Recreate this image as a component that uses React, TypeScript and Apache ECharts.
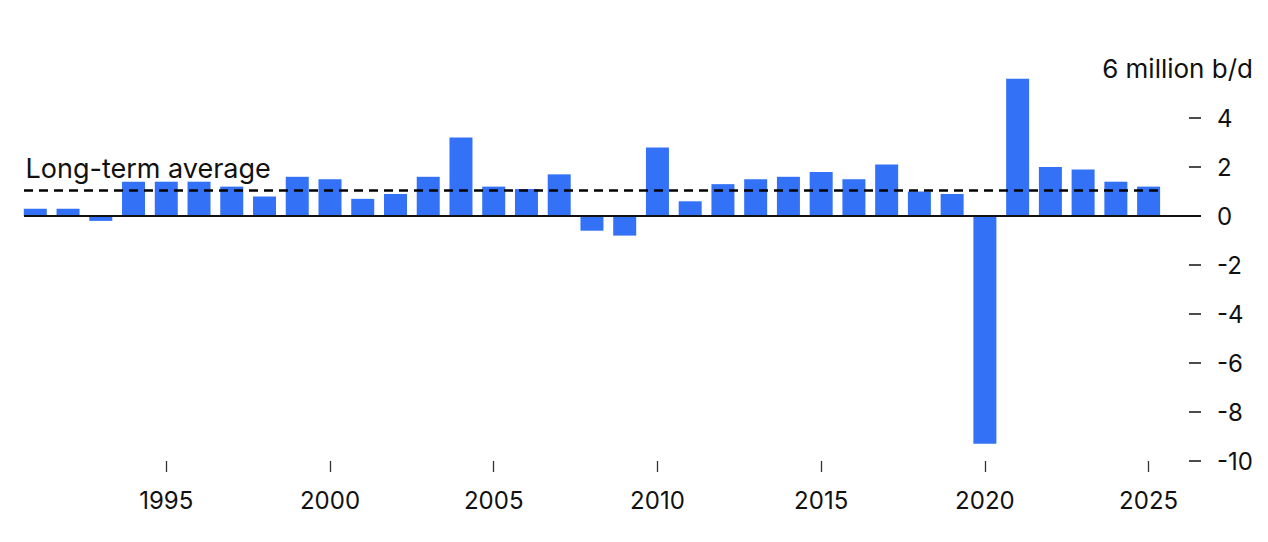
import React, { useEffect, useRef } from "react";
import * as echarts from "echarts";

const years = [
  1991, 1992, 1993, 1994, 1995, 1996, 1997, 1998, 1999, 2000,
  2001, 2002, 2003, 2004, 2005, 2006, 2007, 2008, 2009, 2010,
  2011, 2012, 2013, 2014, 2015, 2016, 2017, 2018, 2019, 2020,
  2021, 2022, 2023, 2024, 2025,
];
const growth = [
  0.3, 0.3, -0.2, 1.4, 1.4, 1.4, 1.2, 0.8, 1.6, 1.5,
  0.7, 0.9, 1.6, 3.2, 1.2, 1.1, 1.7, -0.6, -0.8, 2.8,
  0.6, 1.3, 1.5, 1.6, 1.8, 1.5, 2.1, 1.0, 0.9, -9.3,
  5.6, 2.0, 1.9, 1.4, 1.2,
];
const longTermAverage = 1.06;
const xTickYears = [1995, 2000, 2005, 2010, 2015, 2020, 2025];
const yTickValues = [-10, -8, -6, -4, -2, 0, 2, 4];
const unitLabel = "6 million b/d";
const averageLabel = "Long-term average";

const FONT = "Inter, 'Liberation Sans', Arial, sans-serif";

export default function App() {
  const ref = useRef<HTMLDivElement>(null);
  useEffect(() => {
    if (!ref.current) return;
    const chart = echarts.init(ref.current, undefined, { renderer: "svg" });
    const xMin = 1990.655;
    const xMax = 2026.6;
    chart.setOption({
      animation: false,
      grid: { left: 24, right: 67, top: 69, bottom: 81, containLabel: false },
      xAxis: {
        type: "value",
        min: xMin,
        max: xMax,
        axisLine: { show: false, onZero: false },
        splitLine: { show: false },
        axisTick: {
          show: true,
          length: 11,
          customValues: xTickYears,
          lineStyle: { color: "#333", width: 1.3 },
        },
        axisLabel: {
          customValues: xTickYears,
          formatter: (v: number) => String(v),
          color: "#111",
          fontSize: 24,
          fontFamily: FONT,
          margin: 27,
        },
      },
      yAxis: {
        type: "value",
        position: "right",
        min: -10,
        max: 6,
        axisLine: { show: false },
        splitLine: { show: false },
        axisTick: {
          show: true,
          inside: true,
          length: 12,
          customValues: yTickValues,
          lineStyle: { color: "#111", width: 1.5 },
        },
        axisLabel: {
          customValues: yTickValues,
          formatter: (v: number) => String(v),
          color: "#111",
          fontSize: 24,
          fontFamily: FONT,
          margin: 16,
        },
      },
      series: [
        {
          type: "bar",
          barWidth: 23,
          data: years.map((y, i) => [y, growth[i]]),
          itemStyle: { color: "#3372F6" },
          markLine: {
            silent: true,
            symbol: ["none", "none"],
            label: { show: false },
            data: [
              [
                { coord: [xMin, 0], lineStyle: { color: "#111", width: 2, type: "solid" } },
                { coord: [xMax, 0] },
              ],
              [
                {
                  coord: [years[0] - 0.345, longTermAverage],
                  lineStyle: { color: "#000", width: 2.5, type: [9, 6] },
                },
                { coord: [years[years.length - 1] + 0.345, longTermAverage] },
              ],
            ],
          },
        },
      ],
      graphic: [
        {
          type: "text",
          left: 24,
          top: 153,
          z: 10,
          style: {
            text: averageLabel,
            fontSize: 27,
            fontFamily: FONT,
            fill: "#111",
            stroke: "#fff",
            lineWidth: 3,
          },
        },
        {
          type: "text",
          right: 15,
          top: 55,
          style: {
            text: unitLabel,
            fontSize: 26,
            fontFamily: FONT,
            fill: "#111",
          },
        },
      ],
    });
    return () => chart.dispose();
  }, []);
  return (
    <div
      ref={ref}
      style={{ position: "fixed", left: 0, top: 0, width: 1268, height: 542, background: "#fff" }}
    />
  );
}
